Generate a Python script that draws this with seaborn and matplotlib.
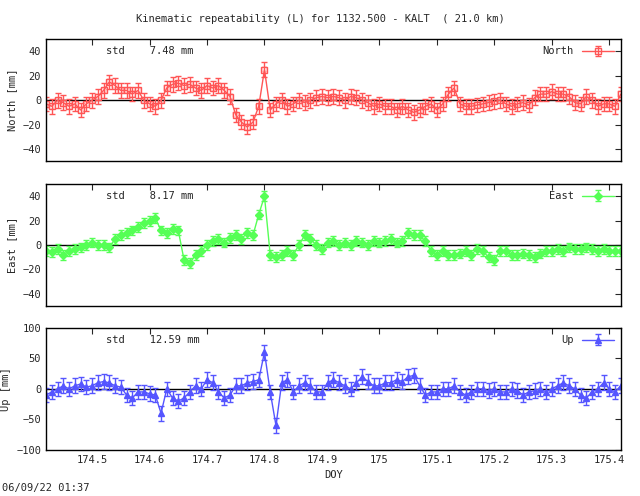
import numpy as np
import matplotlib
matplotlib.use("Agg")
import matplotlib.pyplot as plt
import seaborn as sns

# data (DOY step 0.01)
doy = np.round(np.arange(174.42, 175.4201, 0.01), 2)

north = [-3, -5, 0, -2, -5, -3, -8, -3, 0, 3,
         8, 15, 12, 8, 8, 5, 8, 0, -3, -5,
         0, 10, 13, 14, 12, 13, 10, 8, 12, 10,
         12, 8, 3, -12, -18, -22, -18, -5, 25, -8,
         -3, 0, -5, -3, 0, -2, 0, 2, 3, 2,
         3, 2, 0, 3, 2, 0, -2, -5, -3, -5,
         -5, -8, -5, -8, -10, -8, -5, -3, -8, -3,
         5, 10, -3, -5, -5, -4, -3, -2, -1, 0,
         -3, -5, -3, -2, -4, 2, 5, 5, 7, 5,
         5, 3, -2, -3, 3, 0, -5, -3, -3, -5,
         5]
east = [-5, -6, -3, -8, -5, -3, -2, 0, 2, 0,
        0, -2, 5, 8, 10, 12, 15, 18, 20, 22,
        12, 10, 13, 12, -12, -15, -8, -5, 0, 3,
        5, 2, 6, 8, 5, 10, 8, 25, 40, -8,
        -10, -8, -5, -8, 0, 8, 5, 0, -3, 2,
        3, 0, 2, 0, 3, 2, 0, 3, 2, 3,
        5, 2, 3, 10, 8, 8, 3, -5, -8, -5,
        -8, -8, -7, -5, -8, -3, -5, -10, -12, -5,
        -5, -8, -8, -7, -8, -10, -7, -5, -5, -3,
        -5, -2, -3, -3, -2, -3, -5, -3, -5, -5,
        -5]
up = [-10, -5, 0, 5, 0, 5, 8, 3, 5, 10,
      12, 10, 5, 3, -10, -15, -5, -5, -8, -10,
      -40, 0, -15, -20, -15, -5, 5, 0, 15, 10,
      -5, -15, -10, 5, 5, 10, 12, 15, 60, -5,
      -60, 10, 15, -5, 5, 10, 5, -5, -5, 10,
      15, 10, 5, 0, 10, 20, 12, 5, 5, 10,
      10, 15, 12, 20, 22, 5, -10, -5, -5, 0,
      0, 5, -5, -10, -5, 0, 0, -3, 0, -5,
      -5, 0, -3, -10, -5, -3, 0, -5, 0, 5,
      10, 5, 0, -10, -15, -5, 0, 10, 0, -5,
      5]
errs = {"North": 6, "East": 4, "Up": 12}
stds = {"North": "7.48", "East": "8.17", "Up": "12.59"}
ylims = {"North": (-50, 50), "East": (-50, 50), "Up": (-100, 100)}
yticks = {"North": [-40, -20, 0, 20, 40], "East": [-40, -20, 0, 20, 40],
          "Up": [-100, -50, 0, 50, 100]}
xticks = [174.5, 174.6, 174.7, 174.8, 174.9, 175, 175.1, 175.2, 175.3, 175.4]

sns.set_style("white")
plt.rcParams["font.family"] = "DejaVu Sans Mono"
plt.rcParams["font.size"] = 7.5

fig = plt.figure(figsize=(6.4, 4.96), dpi=100)
series = [("North", north, "#ff5555", "s", 0.675),
          ("East", east, "#55ff55", "D", 0.383),
          ("Up", up, "#5555ff", "^", 0.093)]

for name, vals, col, mk, bot in series:
    ax = fig.add_axes([0.072, bot, 0.898, 0.246])
    ax.axhline(0, color="black", lw=1)
    yerr = np.full(len(vals), errs[name])
    ax.errorbar(doy, vals, yerr=yerr, color=col, lw=1, capsize=2,
                marker=mk, ms=4, mfc="none" if mk == "s" else col, label=name)
    sns.scatterplot(x=doy, y=vals, color=col, marker=mk, s=14, ax=ax,
                    legend=False, edgecolor=col,
                    facecolor="none" if mk == "s" else col)
    ax.set_xlim(174.42, 175.42)
    ax.set_ylim(*ylims[name])
    ax.set_yticks(yticks[name])
    ax.set_xticks(xticks)
    ax.tick_params(direction="in", top=True, right=True, length=4)
    if name != "Up":
        ax.set_xticklabels([])
    else:
        ax.set_xticklabels([str(t) for t in xticks])
        ax.set_xlabel("DOY")
    ax.set_ylabel(f"{name} [mm]")
    for s in ax.spines.values():
        s.set_color("black")
        s.set_linewidth(1)
    ax.text(0.105, 0.9, f"std    {stds[name]} mm", transform=ax.transAxes,
            va="center")
    ax.legend(loc="upper right", frameon=False, markerfirst=False,
              handlelength=3, borderaxespad=0.3)

fig.text(0.5, 0.955, "Kinematic repeatability (L) for 1132.500 - KALT  ( 21.0 km)",
         ha="center")
fig.text(0.003, 0.01, "06/09/22 01:37")
fig.savefig("out.png", dpi=100)
